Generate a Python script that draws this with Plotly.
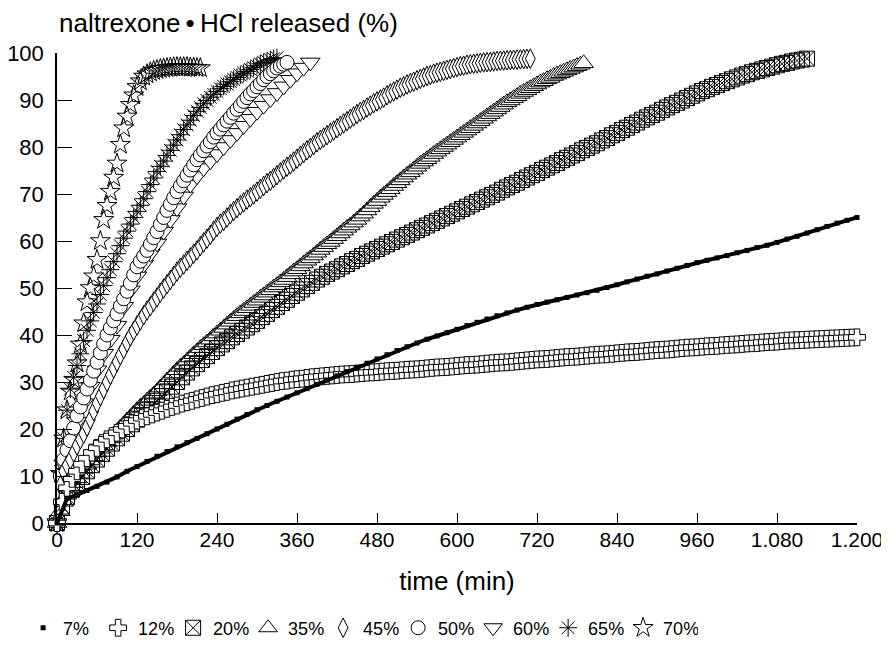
import plotly.graph_objects as go

# ---- data (time in min, % released); each series sampled every STEP minutes from t=0 ----
STEP_7, STEP_12, STEP_20 = 15, 7.5, 7.5
STEP_35, STEP_45 = 5, 5
STEP_50, STEP_60, STEP_65, STEP_70 = 5, 10, 5, 5

rel_7 = [0, 5.2, 6, 6.9, 7.8, 8.7, 9.8, 11, 12, 13.1, 14.2, 15.2, 16.2, 17.1, 18, 19, 20, 21, 22.1, 23.1,
         24.1, 25, 25.9, 26.8, 27.7, 28.6, 29.5, 30.4, 31.3, 32.2, 33.1, 34, 34.9, 35.8, 36.7, 37.5, 38.3, 39.1,
         39.8, 40.5, 41.2, 42, 42.7, 43.4, 44.1, 44.7, 45.3, 45.9, 46.5, 47, 47.5, 48, 48.5, 49, 49.5, 50.1,
         50.7, 51.3, 51.9, 52.5, 53, 53.6, 54.2, 54.8, 55.4, 55.9, 56.4, 56.9, 57.5, 58, 58.6, 59.1, 59.7,
         60.4, 61, 61.7, 62.4, 63.1, 63.8, 64.4, 65]
rel_12 = [0, 4.5, 7.5, 9.4, 11, 12.5, 13.8, 15, 16, 17,
          17.8, 18.5, 19.2, 19.9, 20.6, 21.2, 21.8, 22.3, 22.7, 23.1,
          23.5, 23.9, 24.3, 24.7, 25, 25.4, 25.7, 26, 26.3, 26.6,
          26.9, 27.2, 27.4, 27.7, 27.9, 28.2, 28.4, 28.6, 28.8, 29,
          29.2, 29.4, 29.6, 29.8, 30, 30.2, 30.3, 30.5, 30.6, 30.7,
          30.85, 31, 31.1, 31.2, 31.3, 31.4, 31.5, 31.6, 31.65, 31.7,
          31.8, 31.9, 32, 32.05, 32.1, 32.2, 32.3, 32.35, 32.4, 32.5,
          32.6, 32.65, 32.7, 32.8, 32.9, 33, 33.1, 33.15, 33.2, 33.3,
          33.4, 33.5, 33.6, 33.65, 33.7, 33.8, 33.9, 34, 34.1, 34.15,
          34.2, 34.3, 34.4, 34.5, 34.6, 34.7, 34.8, 34.85, 34.9, 35,
          35.1, 35.2, 35.3, 35.35, 35.4, 35.5, 35.6, 35.7, 35.8, 35.85,
          35.9, 36, 36.1, 36.2, 36.3, 36.35, 36.4, 36.5, 36.6, 36.7,
          36.8, 36.85, 36.9, 37, 37.1, 37.2, 37.3, 37.35, 37.4, 37.5,
          37.6, 37.65, 37.7, 37.8, 37.9, 37.95, 38, 38.1, 38.2, 38.25,
          38.3, 38.4, 38.5, 38.55, 38.6, 38.7, 38.8, 38.85, 38.9, 38.95,
          39, 39.05, 39.1, 39.15, 39.2, 39.25, 39.3, 39.35, 39.4, 39.45,
          39.5]
rel_20 = [0, 3.5, 5.5, 7.1, 8.5, 9.8, 11, 12.3, 13.5, 14.7,
          15.8, 16.9, 18, 19, 20, 21, 22, 23, 24, 25,
          26, 27, 28, 29, 30, 31, 32, 32.9, 33.8, 34.7,
          35.5, 36.4, 37.2, 38, 38.7, 39.5, 40.2, 40.9, 41.6, 42.3,
          43, 43.8, 44.5, 45.3, 46, 46.8, 47.5, 48.3, 49, 49.7,
          50.4, 51.1, 51.8, 52.4, 53, 53.5, 54, 54.6, 55.1, 55.7,
          56.2, 56.8, 57.3, 57.8, 58.3, 58.8, 59.3, 59.8, 60.3, 60.8,
          61.3, 61.8, 62.3, 62.8, 63.3, 63.8, 64.3, 64.8, 65.3, 65.8,
          66.3, 66.8, 67.3, 67.8, 68.3, 68.8, 69.3, 69.8, 70.3, 70.9,
          71.4, 71.9, 72.4, 73, 73.5, 74, 74.5, 75.1, 75.6, 76.1,
          76.6, 77.2, 77.7, 78.2, 78.7, 79.3, 79.8, 80.3, 80.8, 81.4,
          81.9, 82.5, 83, 83.6, 84.1, 84.7, 85.2, 85.8, 86.3, 86.8,
          87.3, 87.9, 88.4, 88.9, 89.4, 89.9, 90.4, 90.9, 91.4, 91.9,
          92.3, 92.8, 93.2, 93.6, 94, 94.4, 94.8, 95.2, 95.5, 95.9,
          96.2, 96.5, 96.8, 97.1, 97.4, 97.7, 97.9, 98.2, 98.4, 98.6,
          98.8]
rel_35 = [0, 2.5, 4.5, 6, 7.5, 8.5, 9.5, 10.5, 11.5, 12.4,
          13.3, 14.2, 15, 15.8, 16.5, 17.3, 18, 18.8, 19.5, 20.3,
          21, 21.8, 22.5, 23.3, 24, 24.7, 25.3, 26, 26.7, 27.3,
          28, 28.8, 29.5, 30.3, 31, 31.8, 32.5, 33.2, 33.8, 34.5,
          35.2, 35.9, 36.5, 37.2, 37.8, 38.4, 39, 39.7, 40.3, 40.9,
          41.5, 42.2, 42.8, 43.4, 44, 44.6, 45.1, 45.7, 46.2, 46.8,
          47.3, 47.9, 48.4, 49, 49.5, 50.1, 50.6, 51.2, 51.7, 52.3,
          52.9, 53.5, 54, 54.6, 55.2, 55.8, 56.3, 56.9, 57.5, 58.1,
          58.7, 59.3, 59.8, 60.4, 61, 61.6, 62.2, 62.8, 63.3, 63.9,
          64.5, 65.2, 65.8, 66.5, 67.2, 67.9, 68.5, 69.2, 69.8, 70.4,
          71, 71.7, 72.3, 72.9, 73.5, 74.1, 74.6, 75.2, 75.8, 76.4,
          76.9, 77.4, 77.9, 78.5, 79, 79.5, 80, 80.5, 81, 81.5,
          82, 82.5, 83, 83.5, 84, 84.5, 85, 85.5, 86, 86.5,
          87, 87.5, 88, 88.5, 89, 89.5, 89.9, 90.4, 90.8, 91.3,
          91.7, 92.1, 92.5, 92.9, 93.3, 93.7, 94, 94.4, 94.7, 95.1,
          95.4, 95.7, 96, 96.3, 96.6, 96.9, 97.2, 97.5, 97.8]
rel_45 = [0, 8, 11, 12.3, 13.5, 15, 16.5, 17.8, 19, 20.5,
          22, 23.8, 25.5, 27, 28.5, 30, 31.5, 32.9, 34.3, 35.7,
          37, 38.4, 39.7, 40.9, 42, 43.1, 44.2, 45.2, 46.1, 47.1,
          48, 49, 49.9, 50.8, 51.7, 52.6, 53.5, 54.3, 55, 55.8,
          56.5, 57.3, 58, 58.9, 59.7, 60.5, 61.3, 62.2, 63, 63.7,
          64.3, 65, 65.7, 66.4, 67, 67.6, 68.2, 68.8, 69.3, 69.9,
          70.5, 71.1, 71.7, 72.3, 72.8, 73.4, 74, 74.6, 75.2, 75.8,
          76.3, 76.9, 77.5, 78.1, 78.7, 79.3, 79.8, 80.4, 81, 81.5,
          82, 82.5, 83, 83.5, 84, 84.5, 85, 85.5, 86, 86.5,
          87, 87.5, 87.9, 88.4, 88.8, 89.3, 89.7, 90.1, 90.5, 91,
          91.4, 91.8, 92.2, 92.6, 92.9, 93.3, 93.6, 93.9, 94.2, 94.5,
          94.8, 95.1, 95.3, 95.6, 95.8, 96, 96.2, 96.4, 96.6, 96.8,
          97, 97.2, 97.3, 97.5, 97.6, 97.7, 97.8, 97.9, 98, 98.05,
          98.1, 98.2, 98.3, 98.35, 98.4, 98.45, 98.5, 98.55, 98.6, 98.65,
          98.7, 98.75, 98.8]
rel_50 = [0, 10, 13.5, 15.5, 17.5, 20.2, 22.8, 24.7, 26.6, 28.5, 30.4, 32.3, 34.2, 36.2, 38.1, 40, 41.5, 43,
          44.5, 46.1, 47.7, 49.3, 51, 52.8, 54.5, 55.7, 56.8, 58, 59.3, 60.7, 62, 63.5, 65, 66.5, 67.8, 69.2,
          70.5, 71.7, 72.8, 74, 75.1, 76.2, 77.3, 78.3, 79.2, 80.2, 81.1, 82.1, 83, 83.8, 84.7, 85.5, 86.3,
          87.2, 88, 88.8, 89.7, 90.5, 91.3, 92, 92.8, 93.5, 94.3, 95, 95.6, 96.2, 96.8, 97.2, 97.6, 98]
rel_60 = [0, 12.5, 16.5, 21.5, 25.5, 29, 32.5, 36, 39, 42, 46, 49.5, 52.5, 55, 57.3, 59.5, 62, 64.5, 67, 69.5,
          72, 73.8, 75.5, 77, 78.5, 80, 81.5, 83, 84.5, 86, 87.5, 88.8, 90.2, 91.5, 92.9, 94.3, 95.7, 96.9, 98]
rel_65 = [0, 11, 18, 24, 28.5, 31, 33.5, 36, 38.8, 41, 43, 44.8, 46.6, 48.6, 50.5, 52.2, 53.9, 55.6, 57.3, 59,
          60.6, 62.1, 63.6, 65, 66.3, 67.6, 69, 70.5, 72, 73.4, 74.8, 75.9, 77, 78.2, 79.3, 80.4, 81.5, 82.6,
          83.7, 84.7, 85.7, 86.7, 87.6, 88.4, 89.2, 89.9, 90.6, 91.2, 91.8, 92.4, 92.9, 93.4, 93.9, 94.4,
          94.8, 95.3, 95.7, 96.1, 96.5, 96.9, 97.3, 97.7, 98, 98.3, 98.6, 98.8, 99]
rel_70 = [0, 10.5, 18, 24, 28, 30.5, 34, 38, 42.5, 47, 50, 52.5, 56, 60, 64.5, 67.5, 70.5, 73.5, 76.5, 80.5,
          84, 86.5, 89, 91, 92.8, 94, 95, 95.5, 95.9, 96.2, 96.4, 96.6, 96.7, 96.8, 96.9, 97, 97, 97, 97, 97,
          96.9, 96.9, 96.8, 96.8]

x_tickvals = [0, 120, 240, 360, 480, 600, 720, 840, 960, 1080, 1200]
x_ticktext = ["0", "120", "240", "360", "480", "600", "720", "840", "960", "1.080", "1.200"]
y_tickvals = [0, 10, 20, 30, 40, 50, 60, 70, 80, 90, 100]

series = [
    # name, values, step, symbol, size, fill (None = see-through outline)
    ("7%", rel_7, STEP_7, "square", 5, "black"),
    ("12%", rel_12, STEP_12, "cross", 14, "white"),
    ("20%", rel_20, STEP_20, "square-x-open", 15, None),
    ("35%", rel_35, STEP_35, "triangle-up", 17, "white"),
    ("45%", rel_45, STEP_45, "diamond-tall", 14, "white"),
    ("50%", rel_50, STEP_50, "circle", 14, "white"),
    ("60%", rel_60, STEP_60, "triangle-down", 17, "white"),
    ("65%", rel_65, STEP_65, "asterisk-open", 15, None),
    ("70%", rel_70, STEP_70, "star-open", 15, None),
]

FONT = "Liberation Sans, Arial, Helvetica, sans-serif"
fig = go.Figure()
for name, vals, step, sym, size, fill in reversed(series):
    t = [i * step for i in range(len(vals))]
    if name == "7%":
        fig.add_trace(go.Scatter(x=t, y=vals, mode="lines", line=dict(color="black", width=4),
                                 showlegend=False, hoverinfo="skip", cliponaxis=False))
        marker = dict(symbol=sym, size=size, color="black")
    elif fill is None:
        marker = dict(symbol=sym, size=size, color="black", line=dict(color="black", width=1))
    else:
        marker = dict(symbol=sym, size=size, color=fill, line=dict(color="black", width=1))
    fig.add_trace(go.Scatter(x=t, y=vals, name=name, mode="markers", marker=marker, cliponaxis=False))

# the page body adds an 8 px offset, so margins are set 8 px smaller on the left/top
fig.update_layout(
    width=889, height=652,
    margin=dict(l=49, r=40, t=45, b=137),
    paper_bgcolor="white", plot_bgcolor="white",
    font=dict(family=FONT, color="black", size=20),
    showlegend=True,
    legend=dict(orientation="h", xref="container", yref="container", x=0.017, y=0.049,
                xanchor="left", yanchor="middle",
                traceorder="reversed", itemsizing="trace", entrywidth=30, entrywidthmode="pixels",
                font=dict(size=18, family="Liberation Sans Narrow, Arial Narrow, Liberation Sans, Arial")),
    xaxis=dict(range=[0, 1200], tickvals=x_tickvals, ticktext=x_ticktext, ticks="inside", ticklen=10,
               tickcolor="black", showline=True, linecolor="black", linewidth=1.5, showgrid=False,
               zeroline=False, tickfont=dict(size=21), automargin=False, ticklabeloverflow="allow",
               ticklabelstandoff=-3,
               title=dict(text="time (min)", font=dict(size=26), standoff=22)),
    yaxis=dict(range=[0, 100], tickvals=y_tickvals, ticks="inside", ticklen=15, tickcolor="black",
               showline=True, linecolor="black", linewidth=1.5, showgrid=False, zeroline=False,
               tickfont=dict(size=22), ticklabelstandoff=7, automargin=False, ticklabeloverflow="allow"),
    annotations=[dict(text="naltrexone\u2009\u2022\u2009HCl released (%)", xref="paper", yref="paper",
                      x=0, y=1.064, xanchor="left", yanchor="middle", showarrow=False,
                      font=dict(size=26))],
)
fig.write_html("out.html")
